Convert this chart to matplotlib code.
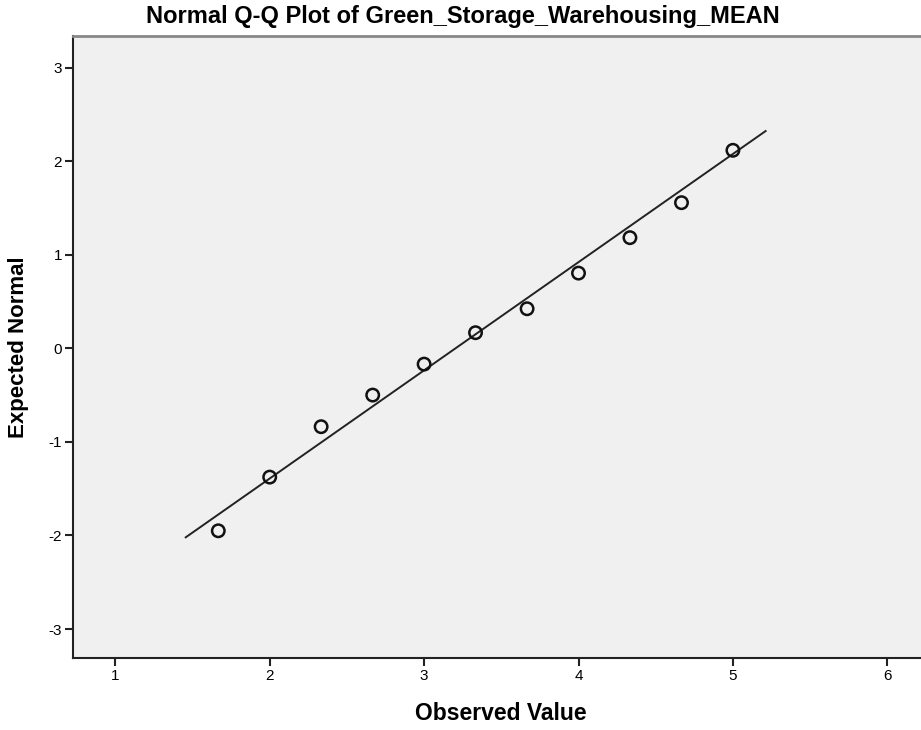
import matplotlib.pyplot as plt

observed = [1.667, 2.000, 2.333, 2.667, 3.000, 3.333, 3.667, 4.000, 4.333, 4.667, 5.000]
expected = [-1.95, -1.376, -0.837, -0.499, -0.168, 0.168, 0.424, 0.805, 1.184, 1.558, 2.118]

# Linea de referencia normal
line_x = [1.456, 5.212]
line_y = [-2.02, 2.324]

x_ticks = [1, 2, 3, 4, 5, 6]
y_ticks = [-3, -2, -1, 0, 1, 2, 3]

plt.rcParams['font.family'] = ['Liberation Sans', 'DejaVu Sans']
plt.rcParams['axes.unicode_minus'] = False

fig = plt.figure(figsize=(9.21, 7.30), dpi=100)
ax = fig.add_axes([73 / 921, 1 - 658 / 730, (929 - 73) / 921, (658 - 36) / 730])
ax.set_facecolor('#f0f0f0')

ax.plot(line_x, line_y, color='#222222', linewidth=1.4, zorder=2)
ax.scatter(observed, expected, s=80, facecolors='none', edgecolors='#111111',
           linewidths=1.8, zorder=3)

ax.set_xlim(0.726, 6.27)
ax.set_ylim(-3.31, 3.34)
ax.set_xticks(x_ticks)
ax.set_yticks(y_ticks)
ax.tick_params(axis='both', direction='out', length=6, width=1.5, color='#222222',
               labelsize=11, pad=2)

ax.spines['left'].set_linewidth(1.5)
ax.spines['bottom'].set_linewidth(1.5)
ax.spines['left'].set_color('#222222')
ax.spines['bottom'].set_color('#222222')
ax.spines['top'].set_color('#888888')
ax.spines['top'].set_linewidth(2)
ax.spines['right'].set_visible(False)

# Titulos y etiquetas
fig.text(501 / 921, 1 - 714 / 730, 'Observed Value', ha='center', va='center',
         fontsize=16.5, fontweight='bold')
fig.text(19 / 921, 1 - 347 / 730, 'Expected Normal', ha='center', va='center',
         rotation=90, fontsize=16, fontweight='bold')
fig.text(463 / 921, 1 - 16 / 730, 'Normal Q-Q Plot of Green_Storage_Warehousing_MEAN',
         ha='center', va='center', fontsize=17, fontweight='bold')

plt.savefig('out.png', dpi=100)
